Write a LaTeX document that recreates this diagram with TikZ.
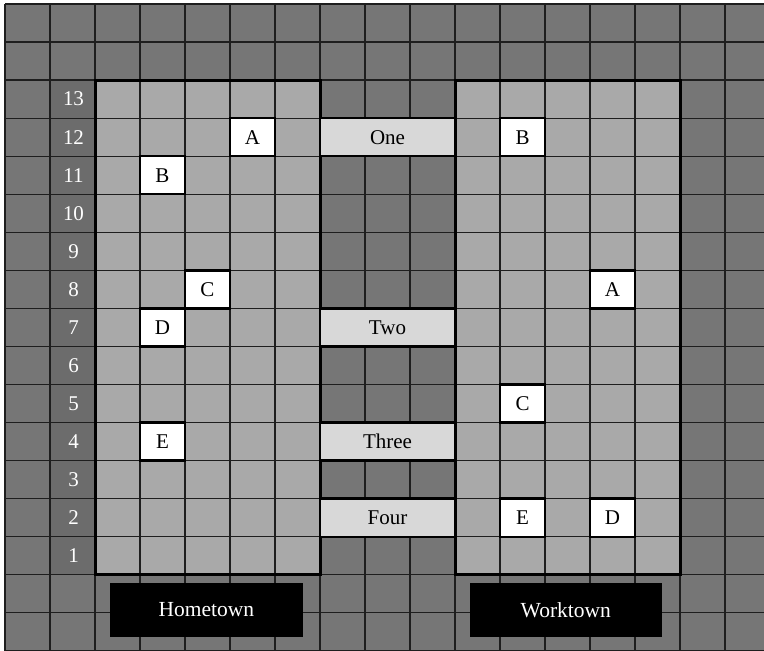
\documentclass[tikz,border=0pt]{standalone}
\usepackage{fontspec}
\setmainfont{Liberation Serif}
\definecolor{outergray}{HTML}{767676}
\definecolor{numgray}{HTML}{6C6C6C}
\definecolor{lightgray}{HTML}{A9A9A9}
\definecolor{bargray}{HTML}{D8D8D8}
\definecolor{linegray}{HTML}{1E1E1E}
\begin{document}
\begin{tikzpicture}[x=1pt,y=-1pt,
  gridline/.style={line width=1.3pt, draw=linegray},
  blockborder/.style={line width=3pt, draw=black},
  cellbox/.style={draw=black, line width=2.4pt, fill=white, minimum width=45pt, minimum height=38.05pt, inner sep=0pt, font=\fontsize{21}{24}\selectfont},
  barbox/.style={cellbox, fill=bargray, minimum width=135pt},
  rowlab/.style={text=white, inner sep=0pt, font=\fontsize{21}{24}\selectfont},
  townbox/.style={fill=black, draw=none, text=white, minimum width=192.7pt, minimum height=54.6pt, inner sep=0pt, font=\fontsize{21.5}{24}\selectfont}]
\useasboundingbox (0,0) rectangle (764,651);
\clip (0,0) rectangle (764,651);
\fill[white] (0,0) rectangle (764,651);
% base fills
\fill[outergray] (5,4) rectangle (772,652);
\fill[numgray] (50,80.1) rectangle (95,574.75);
\fill[lightgray] (95,80.1) rectangle (320,574.75);
\fill[lightgray] (455,80.1) rectangle (680,574.75);
% grid
\foreach \i in {0,...,17} \draw[gridline] ({5+45*\i},4) -- ({5+45*\i},652);
\foreach \j in {0,...,17} \draw[gridline] (5,{4+38.05*\j}) -- (772,{4+38.05*\j});
% block borders
\draw[blockborder] (95,80.1) rectangle (320,574.75);
\draw[blockborder] (455,80.1) rectangle (680,574.75);
% row labels
\foreach \n in {1,...,13} \node[rowlab] (n\n) at (73.5,{4+38.05*(15-\n)+19.025}) {\n};
% Hometown boxes
\node[cellbox] (hA) at (252.5,137.175) {A};
\node[cellbox] (hB) at (162.5,175.225) {B};
\node[cellbox] (hC) at (207.5,289.375) {C};
\node[cellbox] (hD) at (162.5,327.425) {D};
\node[cellbox] (hE) at (162.5,441.575) {E};
% Worktown boxes
\node[cellbox] (wB) at (522.5,137.175) {B};
\node[cellbox] (wA) at (612.5,289.375) {A};
\node[cellbox] (wC) at (522.5,403.525) {C};
\node[cellbox] (wE) at (522.5,517.675) {E};
\node[cellbox] (wD) at (612.5,517.675) {D};
% bars
\node[barbox] (one) at (387.5,137.175) {One};
\node[barbox] (two) at (387.5,327.425) {Two};
\node[barbox] (three) at (387.5,441.575) {Three};
\node[barbox] (four) at (387.5,517.675) {Four};
% town boxes
\node[townbox] (home) at (206.35,610) {Hometown};
\node[townbox] (work) at (565.85,610) {Worktown};
\end{tikzpicture}
\end{document}
